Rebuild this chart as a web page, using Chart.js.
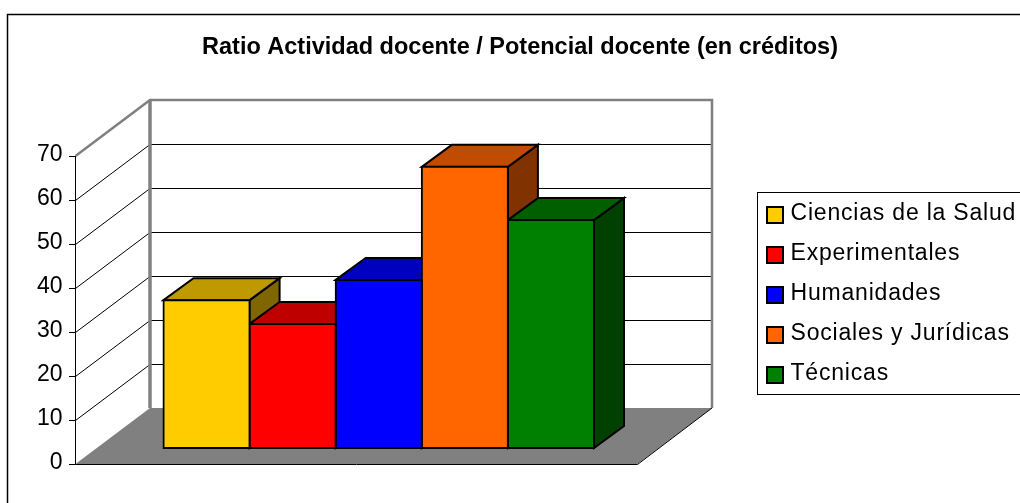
<!DOCTYPE html>
<html><head><meta charset="utf-8">
<style>html,body{margin:0;padding:0;background:#fff}canvas{display:block}</style>
<script src="https://cdn.jsdelivr.net/npm/chart.js@4/dist/chart.umd.min.js"></script>
</head><body><canvas id="c" width="1020" height="503"></canvas>
<script>
const chartTitle = 'Ratio Actividad docente / Potencial docente (en créditos)';
const seriesNames = ['Ciencias de la Salud','Experimentales','Humanidades','Sociales y Jurídicas','Técnicas'];
const seriesValues = [33.6, 28.2, 38.2, 63.9, 51.8];
const frontColors = ['#FFCC00','#FF0000','#0000FF','#FF6600','#008000'];
const topColors   = ['#BF9900','#BF0000','#0000BF','#BF4C00','#006000'];
const sideColors  = ['#806600','#800000','#000080','#803300','#004000'];
const tickStep = 10, axisMax = 70;

// style constants
const FONT = '"Liberation Sans", Arial, sans-serif';
const WALL = {dx:74.5, dy:-56};        // depth of the whole plot box
const BAR  = {dx:30, dy:-22};          // depth of each bar
const FLOOR_W = 562;
const BAR_LIFT = 16/4.4;               // value-units between front floor edge and bar base

const threeD = {
  id:'threeD',
  afterLayout(chart){
    const lg = chart.legend, t = chart.titleBlock;
    lg.left=750; lg.right=1020; lg.top=186.5; lg.bottom=440; lg.width=270; lg.height=253.5;
    lg.adjustHitBoxes();
    t.left=0; t.right=1040;
    if(!lg._wrapped){
      lg._wrapped=true;
      const d=lg.draw, ctx=chart.ctx;
      lg.draw=function(){
        ctx.letterSpacing='0.8px';
        const ft=ctx.fillText;
        ctx.fillText=function(s,x,y,m){ ft.call(ctx,s,x-4,y-1,m); };
        d.call(this);
        delete ctx.fillText;
        ctx.letterSpacing='0px';
      };
    }
  },
  beforeDraw(chart){
    const ctx=chart.ctx;
    ctx.save();
    ctx.fillStyle='#fff'; ctx.fillRect(0,0,1020,503);
    ctx.strokeStyle='#000'; ctx.lineWidth=1.5;
    ctx.strokeRect(7.5,14.5,1100,600);
    ctx.lineWidth=1; ctx.strokeRect(757.5,192.5,300,202);
    ctx.restore();
  },
  beforeDatasetsDraw(chart){
    const ctx=chart.ctx, y=chart.scales.y;
    const x0=75.5, y0=y.getPixelForValue(0), yT=y.getPixelForValue(axisMax);
    ctx.save();
    ctx.lineCap='butt';
    // floor
    ctx.fillStyle='#808080';
    ctx.beginPath();
    ctx.moveTo(x0,y0); ctx.lineTo(x0+WALL.dx,y0+WALL.dy);
    ctx.lineTo(x0+WALL.dx+FLOOR_W,y0+WALL.dy); ctx.lineTo(x0+FLOOR_W,y0);
    ctx.closePath(); ctx.fill();
    // back wall grid + side wall diagonals
    ctx.strokeStyle='#000'; ctx.lineWidth=1;
    for(let v=tickStep;v<axisMax;v+=tickStep){
      const p=Math.round(y.getPixelForValue(v))+0.5;
      ctx.beginPath(); ctx.moveTo(x0,p); ctx.lineTo(x0+WALL.dx,p+WALL.dy);
      ctx.moveTo(x0+WALL.dx,p+WALL.dy); ctx.lineTo(x0+WALL.dx+FLOOR_W,p+WALL.dy); ctx.stroke();
    }
    // grey wall frame
    ctx.strokeStyle='#808080'; ctx.lineWidth=2.5;
    ctx.beginPath();
    ctx.moveTo(x0,yT); ctx.lineTo(x0+WALL.dx,yT+WALL.dy);
    ctx.lineTo(x0+WALL.dx+FLOOR_W,yT+WALL.dy); ctx.lineTo(x0+WALL.dx+FLOOR_W,y0+WALL.dy);
    ctx.stroke();
    ctx.lineWidth=3.5;
    ctx.beginPath(); ctx.moveTo(x0+WALL.dx,yT+WALL.dy); ctx.lineTo(x0+WALL.dx,y0+WALL.dy); ctx.stroke();
    // axis and ticks
    ctx.strokeStyle='#000'; ctx.lineWidth=1;
    ctx.beginPath(); ctx.moveTo(x0,yT); ctx.lineTo(x0,y0+0.5);
    for(let v=0;v<=axisMax;v+=tickStep){
      const p=Math.round(y.getPixelForValue(v))+0.5;
      ctx.moveTo(x0-6.5,p); ctx.lineTo(x0,p);
    }
    // floor front edges
    ctx.moveTo(x0,y0+0.5); ctx.lineTo(x0+FLOOR_W,y0+0.5); ctx.lineTo(x0+FLOOR_W+WALL.dx,y0+WALL.dy);
    ctx.stroke();
    // bar side and top faces, left to right
    ctx.lineWidth=2; ctx.lineJoin='miter';
    seriesValues.forEach((_,i)=>{
      const b=chart.getDatasetMeta(i).data[0];
      const L=b.x-b.width/2, R=b.x+b.width/2, T=b.y, B=b.base;
      ctx.fillStyle=sideColors[i];
      ctx.beginPath();
      ctx.moveTo(R,T); ctx.lineTo(R+BAR.dx,T+BAR.dy); ctx.lineTo(R+BAR.dx,B+BAR.dy); ctx.lineTo(R,B);
      ctx.closePath(); ctx.fill(); ctx.stroke();
      ctx.fillStyle=topColors[i];
      ctx.beginPath();
      ctx.moveTo(L,T); ctx.lineTo(L+BAR.dx,T+BAR.dy); ctx.lineTo(R+BAR.dx,T+BAR.dy); ctx.lineTo(R,T);
      ctx.closePath(); ctx.fill(); ctx.stroke();
    });
    ctx.restore();
  }
};

new Chart(document.getElementById('c'),{
  type:'bar',
  plugins:[threeD],
  data:{
    labels:[''],
    datasets:seriesNames.map((n,i)=>({
      label:n, data:[seriesValues[i]], yAxisID:'yBar',
      backgroundColor:frontColors[i], borderColor:'#000', borderWidth:2,
      borderSkipped:false, inflateAmount:1, clip:false,
      barPercentage:1, categoryPercentage:1
    }))
  },
  options:{
    responsive:false, animation:false, devicePixelRatio:1,
    layout:{padding:{left:0,right:426,top:0,bottom:39}},
    scales:{
      x:{display:false},
      yBar:{display:false,min:-BAR_LIFT,max:axisMax-BAR_LIFT},
      y:{
        position:'left', min:0, max:axisMax,
        afterFit(s){s.width=163.5;s.paddingTop=0;s.paddingBottom=0;},
        grid:{display:false}, border:{display:false},
        ticks:{stepSize:tickStep,autoSkip:false,padding:93,labelOffset:-1,color:'#000',
               font:{family:FONT,size:23}}
      }
    },
    plugins:{
      title:{display:true,text:chartTitle,color:'#000',align:'center',
             font:{family:FONT,size:23.5,weight:'bold',lineHeight:1.2},
             padding:{top:33.5,bottom:94.3}},
      legend:{position:'chartArea',align:'start',onClick:null,
              labels:{boxWidth:16,boxHeight:16,padding:17,color:'#000',
                      font:{family:FONT,size:23}}},
      tooltip:{enabled:false}
    }
  }
});
</script></body></html>
